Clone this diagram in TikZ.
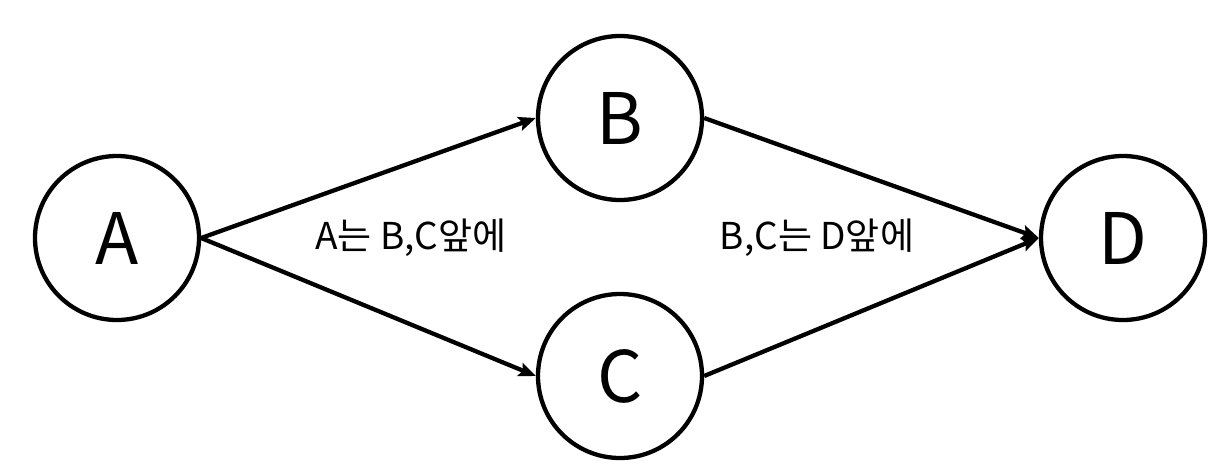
\documentclass[tikz,border=0pt]{standalone}
\usepackage{fontspec}
\setmainfont{Noto Sans CJK KR}
\usetikzlibrary{arrows.meta}
\begin{document}
\begin{tikzpicture}[x=1pt,y=-1pt,
  vert/.style={circle,draw,line width=4.3pt,minimum size=164pt,inner sep=0pt,font=\fontsize{71}{75}\selectfont},
  edge/.style={line width=4.3pt,-{Stealth[length=17pt,width=14pt,inset=3pt]}},
  lbl/.style={font=\fontsize{37}{40}\selectfont}]
\useasboundingbox (0,0) rectangle (1231,474);
\node[vert] (A) at (117,238) {A};
\node[vert] (B) at (620,118) {B};
\node[vert] (C) at (620,376) {C};
\node[vert] (D) at (1123,238) {D};
\draw[edge] (A.east) -- (B.west);
\draw[edge] (A.east) -- (C.west);
\draw[edge] (B.east) -- (D.west);
\draw[edge] (C.east) -- (D.west);
\node[lbl] (l1) at (411,238) {A는 B,C앞에};
\node[lbl] (l2) at (817,238) {B,C는 D앞에};
\end{tikzpicture}
\end{document}
